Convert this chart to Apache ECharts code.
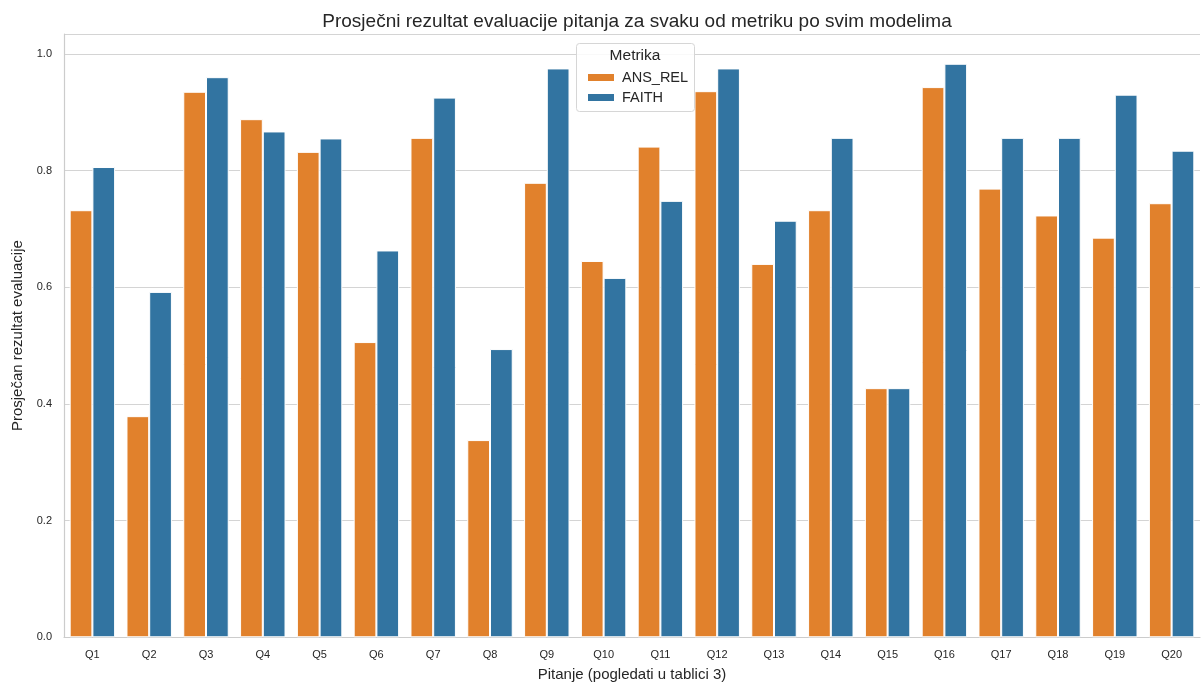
<!DOCTYPE html>
<html>
<head>
<meta charset="utf-8">
<script src="https://cdn.jsdelivr.net/npm/echarts@6/dist/echarts.min.js"></script>
<style>
html,body{margin:0;padding:0;background:#fff;overflow:hidden;}
#c{width:1203px;height:682px;}
</style>
</head>
<body>
<div id="c"></div>
<script>
const categories = ['Q1','Q2','Q3','Q4','Q5','Q6','Q7','Q8','Q9','Q10','Q11','Q12','Q13','Q14','Q15','Q16','Q17','Q18','Q19','Q20'];
const ansRel = [0.732,0.379,0.935,0.888,0.832,0.506,0.856,0.338,0.779,0.645,0.841,0.936,0.640,0.732,0.427,0.943,0.769,0.723,0.685,0.744];
const faith  = [0.806,0.592,0.960,0.867,0.855,0.663,0.925,0.494,0.975,0.616,0.748,0.975,0.714,0.856,0.427,0.983,0.856,0.856,0.930,0.834];
const seriesNames = ['ANS_REL','FAITH'];
const yTicks = [0,0.2,0.4,0.6,0.8,1.0];

const FONT = '"Liberation Sans", Arial, sans-serif';
const chart = echarts.init(document.getElementById('c'), null, {renderer:'canvas'});
chart.setOption({
  animation:false,
  backgroundColor:'#ffffff',
  textStyle:{fontFamily:FONT},
  title:{
    text:'Prosječni rezultat evaluacije pitanja za svaku od metriku po svim modelima',
    left:632, top:7, textAlign:'center',
    textStyle:{fontFamily:FONT,fontSize:19,fontWeight:'normal',color:'#262626'}
  },
  grid:{left:64,right:3,top:34,bottom:44.7,containLabel:false,outerBoundsMode:'none'},
  legend:{
    z:20,
    orient:'vertical',
    left:581, top:65,
    itemWidth:28, itemHeight:9, itemGap:5,
    icon:'rect',
    data:seriesNames,
    textStyle:{fontFamily:FONT,fontSize:14.5,color:'#262626',padding:[0,0,0,2]}
  },
  graphic:[
    {type:'rect',z:5,shape:{x:576.5,y:43.5,width:118,height:68,r:3},
     style:{fill:'rgba(255,255,255,0.85)',stroke:'#d6d6d6',lineWidth:1}},
    {type:'text',z:21,style:{x:635,y:48,text:'Metrika',textAlign:'center',
     font:'15.5px '+FONT,fill:'#262626'}}
  ],
  xAxis:{
    type:'category',
    data:categories,
    name:'Pitanje (pogledati u tablici 3)',
    nameLocation:'middle',nameGap:30,
    nameTextStyle:{fontFamily:FONT,fontSize:15,color:'#262626'},
    axisLine:{show:true,lineStyle:{color:'#cccccc',width:1.2}},
    axisTick:{show:false},
    axisLabel:{fontFamily:FONT,fontSize:11,color:'#262626',margin:12},
    splitLine:{show:false}
  },
  yAxis:{
    type:'value',
    min:0,max:1.034,interval:0.2,
    name:'Prosječan rezultat evaluacije',
    nameLocation:'middle',nameGap:37,nameRotate:90,
    nameTextStyle:{fontFamily:FONT,fontSize:15,color:'#262626'},
    axisLine:{show:true,lineStyle:{color:'#cccccc',width:1.2}},
    axisTick:{show:false},
    axisLabel:{fontFamily:FONT,fontSize:11,color:'#262626',margin:12,
      formatter:function(v){
        for (const t of yTicks){ if (Math.abs(v-t)<1e-6) return t.toFixed(1); }
        return '';
      }},
    splitLine:{show:true,lineStyle:{color:'#d4d4d4',width:1}}
  },
  series:[
    {name:seriesNames[0],type:'bar',data:ansRel,barGap:'0%',barCategoryGap:'20%',
     itemStyle:{color:'#e1812c',borderColor:'#ffffff',borderWidth:1}},
    {name:seriesNames[1],type:'bar',data:faith,barGap:'0%',barCategoryGap:'20%',
     itemStyle:{color:'#3274a1',borderColor:'#ffffff',borderWidth:1}}
  ]
});
</script>
</body>
</html>
